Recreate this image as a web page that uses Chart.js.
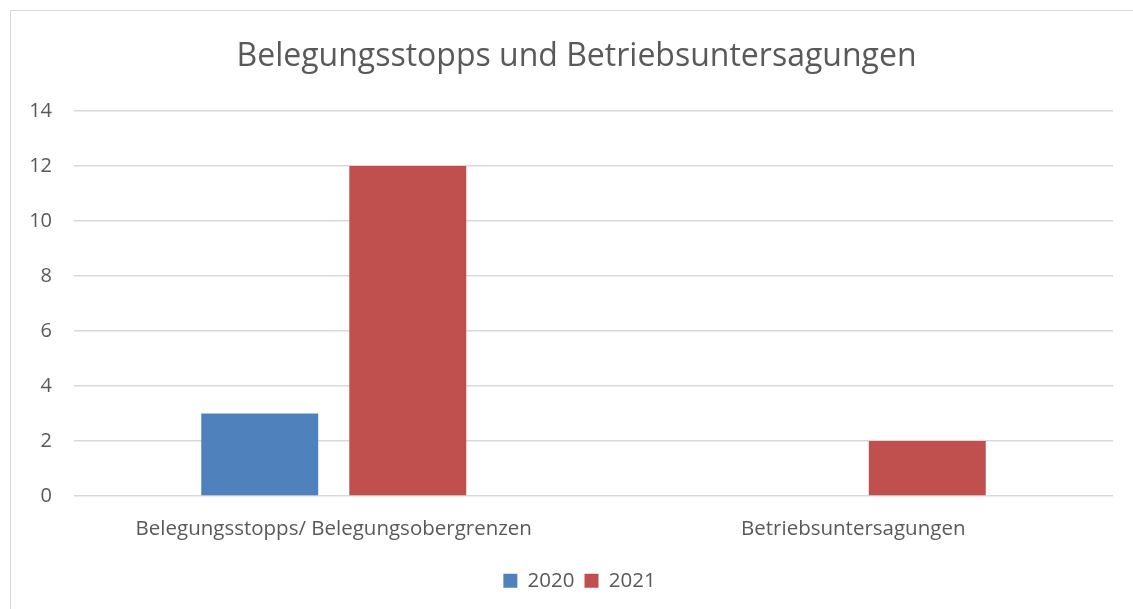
<!DOCTYPE html>
<html>
<head>
<meta charset="utf-8">
<script src="https://cdn.jsdelivr.net/npm/chart.js@4/dist/chart.umd.min.js"></script>
<style>
  html, body { margin: 0; padding: 0; background: #fff; overflow: hidden; }
  #wrap { position: relative; width: 1133px; height: 609px; }
  #frame { position: absolute; left: 10px; top: 10px; width: 1200px; height: 700px; border: 1.5px solid #d9d9d9; box-sizing: border-box; }
  canvas { position: absolute; left: 0; top: 0; }
</style>
</head>
<body>
<div id="wrap">
  <div id="frame"></div>
  <canvas id="c" width="1133" height="609"></canvas>
</div>
<script>
const title = "Belegungsstopps und Betriebsuntersagungen";
const categories = ["Belegungsstopps/ Belegungsobergrenzen", "Betriebsuntersagungen"];
const seriesNames = ["2020", "2021"];
const values2020 = [3, 0];
const values2021 = [12, 2];
const yTicks = [0, 2, 4, 6, 8, 10, 12, 14];

const FONT = "'Open Sans', Lato, sans-serif";
const TXT = "#595959";

// shift title and legend boxes horizontally to match the reference's centering
const shiftBlocks = {
  id: "shiftBlocks",
  afterLayout(chart) {
    if (chart.titleBlock) { chart.titleBlock.left += 15; chart.titleBlock.right += 15; }
    if (chart.legend) { chart.legend.left += 18; chart.legend.right += 18; }
  }
};

new Chart(document.getElementById("c"), {
  type: "bar",
  data: {
    labels: categories,
    datasets: [
      { label: seriesNames[0], data: values2020, backgroundColor: "#4F81BD", categoryPercentage: 0.57, barPercentage: 0.79 },
      { label: seriesNames[1], data: values2021, backgroundColor: "#C0504D", categoryPercentage: 0.57, barPercentage: 0.79 }
    ]
  },
  plugins: [shiftBlocks],
  options: {
    responsive: false,
    animation: false,
    devicePixelRatio: 1,
    layout: { padding: { left: 10, right: 20, top: 0, bottom: 8 } },
    plugins: {
      title: {
        display: true, text: title, color: TXT,
        font: { family: FONT, size: 32, weight: "normal" },
        padding: { top: 38, bottom: 34.6 }
      },
      legend: {
        position: "bottom",
        labels: {
          color: TXT, font: { family: FONT, size: 20.5 },
          boxWidth: 14, boxHeight: 14, padding: 10
        }
      },
      tooltip: { enabled: false }
    },
    scales: {
      x: {
        grid: { display: false, drawTicks: false },
        border: { display: false },
        ticks: { color: TXT, font: { family: FONT, size: 20.5 }, padding: 21, maxRotation: 0 },
        afterFit: (s) => { s.height = 64.5; }
      },
      y: {
        min: 0, max: 14,
        afterBuildTicks: (s) => { s.ticks = yTicks.map(v => ({ value: v })); },
        grid: { color: "#d9d9d9", lineWidth: 1.5, drawTicks: false },
        border: { display: false },
        ticks: { color: TXT, font: { family: FONT, size: 20 }, padding: 22 },
        afterFit: (s) => { s.width = 64; }
      }
    }
  }
});
</script>
</body>
</html>
